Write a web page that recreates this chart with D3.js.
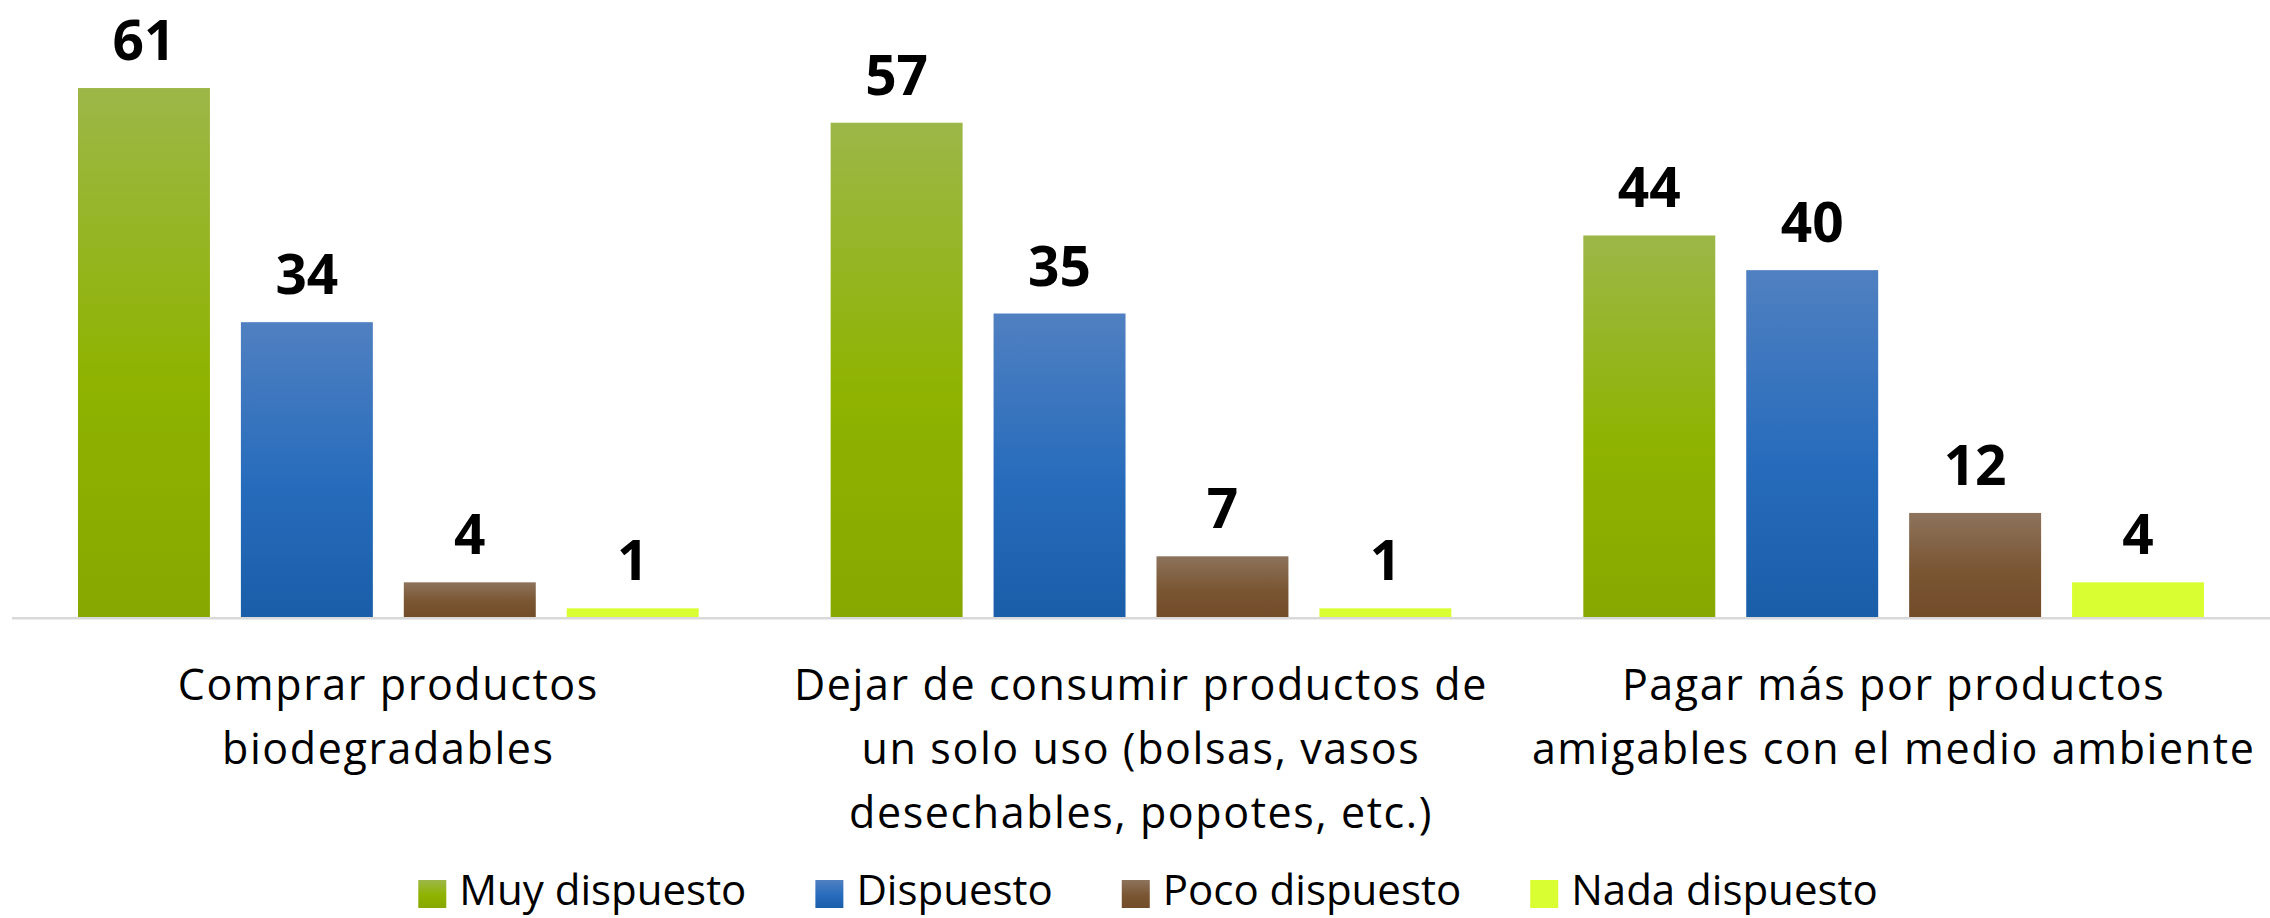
<!DOCTYPE html>
<html>
<head>
<meta charset="utf-8">
<script src="https://cdn.jsdelivr.net/npm/d3@7"></script>
<style>
  html, body { margin: 0; padding: 0; background: #fff; }
  svg { display: block; }
</style>
</head>
<body>
<div id="chart"></div>
<script>
// categories, one array of lines per category label
const categories = ["compra", "desechables", "pagar"];
const categoryLines = [
  ["Comprar productos", "biodegradables"],
  ["Dejar de consumir productos de", "un solo uso (bolsas, vasos", "desechables, popotes, etc.)"],
  ["Pagar más por productos", "amigables con el medio ambiente"]
];
const seriesNames = ["Muy dispuesto", "Dispuesto", "Poco dispuesto", "Nada dispuesto"];
const muyDispuesto = [61, 57, 44];
const dispuesto = [34, 35, 40];
const pocoDispuesto = [4, 7, 12];
const nadaDispuesto = [1, 1, 4];
const seriesValues = [muyDispuesto, dispuesto, pocoDispuesto, nadaDispuesto];

// gradients per series: top, middle, bottom
const seriesGradients = [
  ["#9db748", "#8fb300", "#87a800"],
  ["#5080c1", "#276cbc", "#1a5ea9"],
  ["#8d735c", "#7a5633", "#734c2a"],
  ["#d9ff33", "#d9ff33", "#d9ff33"]
];

const width = 2270, height = 918;
const axisY = 617;
const fontFam = "'Open Sans', 'Noto Sans', sans-serif";

const svg = d3.select("#chart").append("svg")
    .attr("width", width)
    .attr("height", height);

const defs = svg.append("defs");
seriesGradients.forEach((g, i) => {
  const grad = defs.append("linearGradient")
      .attr("id", "grad-" + i)
      .attr("x1", 0).attr("y1", 0).attr("x2", 0).attr("y2", 1);
  grad.append("stop").attr("offset", "0%").attr("stop-color", g[0]);
  grad.append("stop").attr("offset", "55%").attr("stop-color", g[1]);
  grad.append("stop").attr("offset", "100%").attr("stop-color", g[2]);
});

const x0 = d3.scaleBand()
    .domain(categories)
    .range([12, width])
    .paddingInner(0)
    .paddingOuter(0);

const x1 = d3.scaleBand()
    .domain(seriesNames)
    .range([0, x0.bandwidth()])
    .paddingInner(0.19)
    .paddingOuter(0.405);

const y = d3.scaleLinear()
    .domain([0, 70])
    .range([axisY, 10]);

// flatten into bar records
const bars = [];
categories.forEach((c, ci) => {
  seriesNames.forEach((s, si) => {
    bars.push({cat: c, series: s, si: si, value: seriesValues[si][ci]});
  });
});

const g = svg.append("g");

g.selectAll("rect.bar")
  .data(bars)
  .enter().append("rect")
    .attr("class", "bar")
    .attr("x", d => x0(d.cat) + x1(d.series))
    .attr("y", d => y(d.value))
    .attr("width", x1.bandwidth())
    .attr("height", d => y(0) - y(d.value))
    .attr("fill", d => "url(#grad-" + d.si + ")");

// axis line
svg.append("line")
    .attr("x1", 12).attr("x2", width)
    .attr("y1", axisY + 1.2).attr("y2", axisY + 1.2)
    .attr("stroke", "#d9d9d9")
    .attr("stroke-width", 2.5);

// value labels
g.selectAll("text.val")
  .data(bars)
  .enter().append("text")
    .attr("class", "val")
    .attr("x", d => x0(d.cat) + x1(d.series) + x1.bandwidth() / 2)
    .attr("y", d => y(d.value) - 28)
    .attr("text-anchor", "middle")
    .attr("font-family", fontFam)
    .attr("font-weight", 700)
    .attr("font-size", 55)
    .attr("fill", "#000")
    .text(d => d.value);

// category labels
const catG = svg.append("g").selectAll("text.cat")
  .data(categories)
  .enter().append("text")
    .attr("class", "cat")
    .attr("text-anchor", "middle")
    .attr("font-family", fontFam)
    .attr("font-size", 43)
    .attr("letter-spacing", 1.6)
    .attr("fill", "#000");

catG.selectAll("tspan")
  .data((d, i) => categoryLines[i].map(t => ({t: t, cat: d})))
  .enter().append("tspan")
    .attr("x", d => x0(d.cat) + x0.bandwidth() / 2)
    .attr("y", (d, i) => axisY + 83 + i * 64)
    .text(d => d.t);

// legend
const legend = svg.append("g");
const items = legend.selectAll("g.item")
  .data(seriesNames)
  .enter().append("g")
    .attr("class", "item");

items.append("rect")
    .attr("width", 28).attr("height", 28)
    .attr("y", 880)
    .attr("fill", (d, i) => "url(#grad-" + i + ")");

items.append("text")
    .attr("x", 41)
    .attr("y", 905)
    .attr("font-family", fontFam)
    .attr("font-size", 42)
    .attr("fill", "#000")
    .text(d => d);

// lay out legend entries horizontally, centred
let widths = [];
items.each(function() {
  widths.push(41 + d3.select(this).select("text").node().getComputedTextLength());
});
const gap = 69;
const total = d3.sum(widths) + gap * (widths.length - 1);
let cx = 1148 - total / 2;
items.attr("transform", (d, i) => {
  const t = "translate(" + cx + ",0)";
  cx += widths[i] + gap;
  return t;
});
</script>
</body>
</html>
